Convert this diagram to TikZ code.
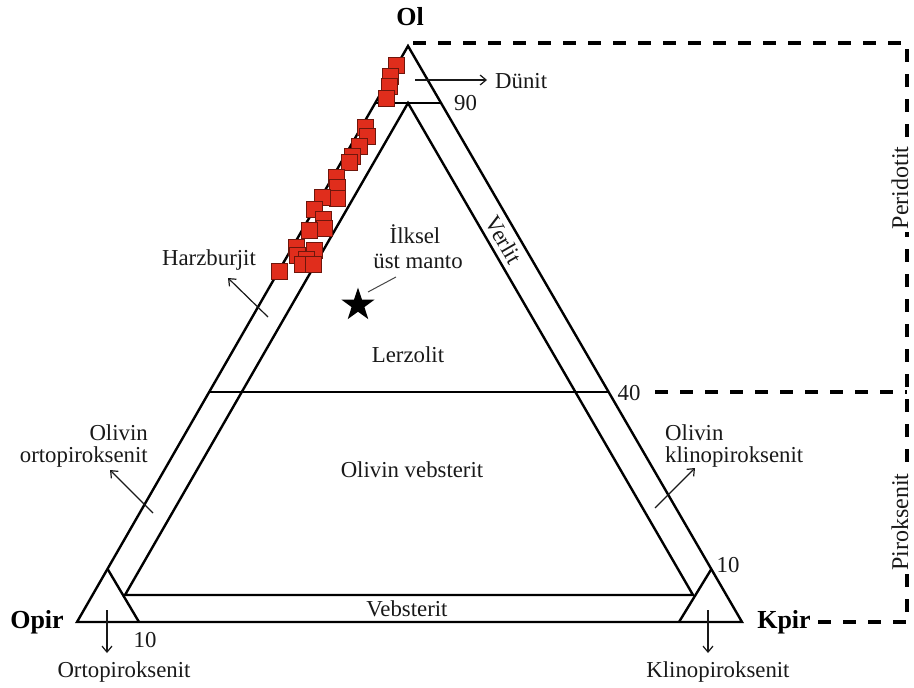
\documentclass[tikz,border=0pt]{standalone}
\usepackage{fontspec}
\setmainfont{Liberation Serif}
\usetikzlibrary{arrows.meta,shapes.geometric}
\definecolor{sqfill}{RGB}{224,45,28}
\definecolor{sqdraw}{RGB}{110,22,12}
\definecolor{txt}{RGB}{25,25,25}
\begin{document}
\begin{tikzpicture}[x=1pt,y=-1pt,
  edge/.style={line width=2.4pt, line join=miter, draw=black},
  dash box/.style={line width=3.5pt, draw=black, dash pattern=on 13pt off 12pt},
  lbl/.style={font=\fontsize{22.8}{25}\selectfont, text=txt, inner sep=0pt, anchor=base},
  lblb/.style={font=\bfseries\fontsize{26}{28}\selectfont, text=black, inner sep=0pt, anchor=base},
  vlbl/.style={font=\fontsize{24}{26}\selectfont, text=txt, inner xsep=3pt, inner ysep=1.5pt, anchor=center, rotate=90, fill=white},
  arr/.style={line width=1.2pt, draw=txt, -{Straight Barb[length=6pt,width=10pt]}},
  sq/.style={rectangle, draw=sqdraw, fill=sqfill, line width=0.9pt, minimum size=16pt, inner sep=0pt},
  starmark/.style={star, star points=5, star point ratio=2.6, fill=black, draw=none, minimum size=35pt, inner sep=0pt}]
\useasboundingbox (0,0) rectangle (914,688);
\fill[white] (0,0) rectangle (914,688);

% corner and construction points
\coordinate (A) at (408,46);
\coordinate (B) at (77,622);
\coordinate (C) at (742,622);
\coordinate (Ai) at (408,103);
\coordinate (Bi) at (125,595);
\coordinate (Ci) at (693,595);
\coordinate (n90a) at (375,103);
\coordinate (n90b) at (441,103);
\coordinate (n40a) at (210,392);
\coordinate (n40b) at (609,392);
\coordinate (p1) at (107.6,569);
\coordinate (p2) at (139,622);
\coordinate (k1) at (711.4,569);
\coordinate (k2) at (679,622);

% dashed brackets
\coordinate (dt0) at (413,43);
\coordinate (dt1) at (907,43);
\coordinate (dm0) at (655,392);
\coordinate (dm1) at (907,392);
\coordinate (db0) at (818,622);
\coordinate (db1) at (907,622);
\draw[dash box] (dt0) -- (dt1) -- (db1);
\draw[dash box] (dm0) -- (dm1);
\draw[dash box] (db0) -- (db1);
\node[vlbl] (peri) at (900,188) {Peridotit};
\node[vlbl] (pirok) at (900,522) {Piroksenit};

% triangles
\draw[edge] (A) -- (B) -- (C) -- cycle;
\draw[edge] (Ai) -- (Bi) -- (Ci) -- cycle;
\draw[edge] (n90a) -- (n90b);
\draw[edge] (n40a) -- (n40b);
\draw[edge] (p1) -- (p2);
\draw[edge] (k1) -- (k2);

% samples
\foreach \x/\y [count=\i] in {396/65,390/76,389/86,386/98,365/127,367/136,359/146,352/156,349/162,
  336/177,337/187,337/198,322/197,314/209,323/219,324/228,309/230,296/247,314/250,297/255,
  306/259,302/264,313/264,279/271}
  \node[sq] (s\i) at (\x,\y) {};

% primitive upper mantle
\node[starmark] (star) at (358,305) {};
\coordinate (ld0) at (368,292);
\coordinate (ld1) at (396,277);
\draw[line width=1pt, draw=txt!80] (ld0) -- (ld1);

% labels
\node[lblb] (ol) at (410,25) {Ol};
\node[lblb] (opir) at (37,628) {Opir};
\node[lblb] (kpir) at (784,628) {Kpir};
\node[lbl] (t90) at (465.5,110) {90};
\node[lbl] (t40) at (629,400) {40};
\node[lbl] (t10a) at (145,647) {10};
\node[lbl] (t10b) at (728,572) {10};
\node[lbl, anchor=base west] (dunit) at (495,88) {Dünit};
\node[lbl] (ilk1) at (415,243) {İlksel};
\node[lbl] (ilk2) at (418,268) {üst manto};
\node[lbl] (lerz) at (408,362) {Lerzolit};
\node[lbl] (harz) at (209,265) {Harzburjit};
\node[lbl, anchor=base east] (oo1) at (148,440) {Olivin};
\node[lbl, anchor=base east] (oo2) at (148,462) {ortopiroksenit};
\node[lbl, anchor=base west] (ok1) at (665,440) {Olivin};
\node[lbl, anchor=base west] (ok2) at (665,462) {klinopiroksenit};
\node[lbl] (ov) at (412,477) {Olivin vebsterit};
\node[lbl] (veb) at (407,616) {Vebsterit};
\node[lbl] (orto) at (124,677) {Ortopiroksenit};
\node[lbl] (klino) at (718,677) {Klinopiroksenit};
\node[lbl, rotate=-60, anchor=center] (verlit) at (504,240) {Verlit};

% arrows
\coordinate (a0) at (415,80);
\draw[arr, shorten >=8pt] (a0) -- (dunit.west |- a0);
\coordinate (h0) at (268,317);
\coordinate (h1) at (228,278);
\draw[arr] (h0) -- (h1);
\coordinate (o0) at (153,513);
\coordinate (o1) at (110,470);
\draw[arr] (o0) -- (o1);
\coordinate (c0) at (655,508);
\coordinate (c1) at (695,468);
\draw[arr] (c0) -- (c1);
\coordinate (r0) at (107,610);
\coordinate (r1) at (107,653);
\draw[arr] (r0) -- (r1);
\coordinate (q0) at (708,610);
\coordinate (q1) at (708,653);
\draw[arr] (q0) -- (q1);
\end{tikzpicture}
\end{document}
